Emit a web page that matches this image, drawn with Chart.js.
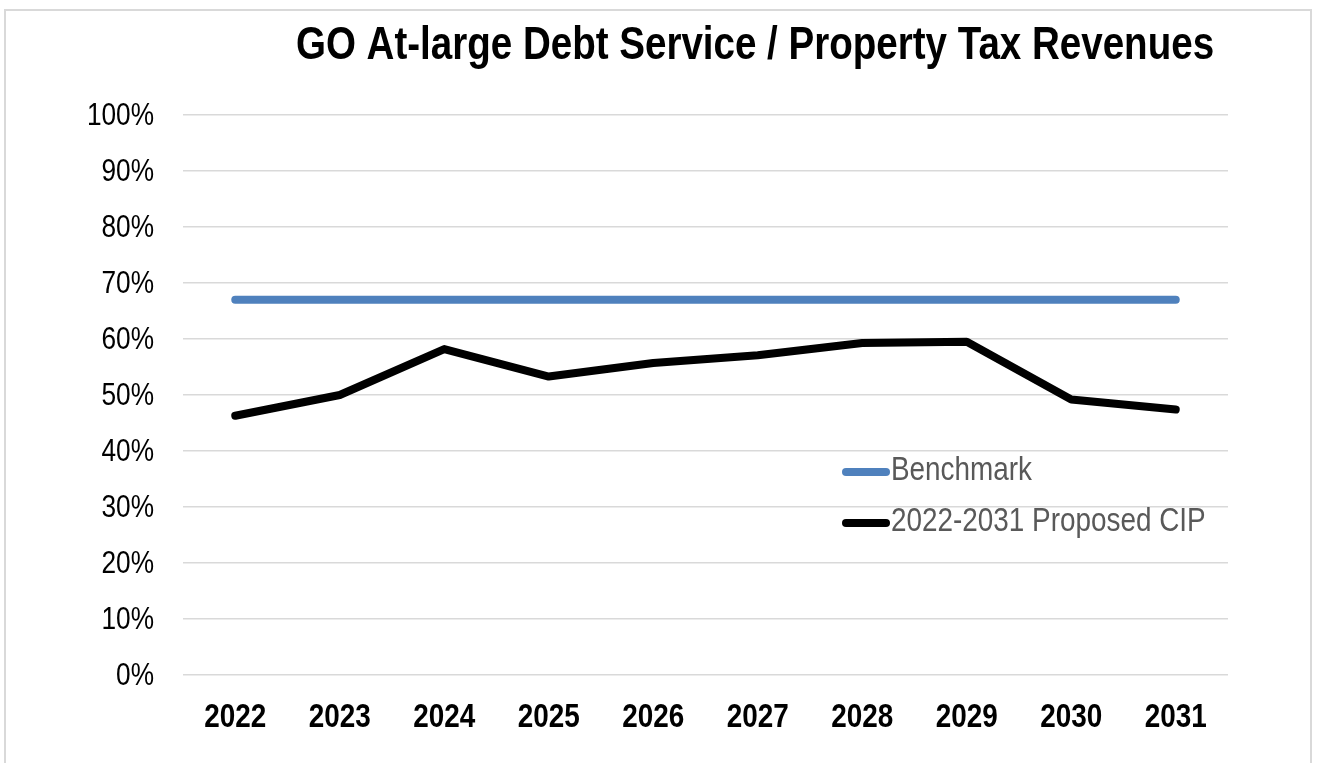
<!DOCTYPE html>
<html>
<head>
<meta charset="utf-8">
<script src="https://cdn.jsdelivr.net/npm/chart.js@4"></script>
<style>
  html, body { margin: 0; padding: 0; background: #fff; }
  #wrap { position: relative; width: 1323px; height: 763px; }
  #frame { position: absolute; left: 4px; top: 9px; width: 1308px; height: 760px; border: 2px solid #d9d9d9; box-sizing: border-box; }
  canvas { position: absolute; left: 0; top: 0; }
</style>
</head>
<body>
<div id="wrap">
  <div id="frame"></div>
  <canvas id="chart" width="1323" height="763"></canvas>
</div>
<script>
const years = ['2022', '2023', '2024', '2025', '2026', '2027', '2028', '2029', '2030', '2031'];
const benchmark = [67, 67, 67, 67, 67, 67, 67, 67, 67, 67];
const proposedCip = [46.3, 50.0, 58.2, 53.3, 55.7, 57.1, 59.3, 59.5, 49.2, 47.4];
const yTicks = [0, 10, 20, 30, 40, 50, 60, 70, 80, 90, 100];

// no Arial Narrow installed: squeeze Liberation Sans sideways instead
const FONT = '"Liberation Sans", Arial, sans-serif';
const NARROW = 0.82;

function narrowText(ctx, text, x, y, font, color, align) {
    ctx.save();
    ctx.font = font;
    ctx.fillStyle = color;
    ctx.textAlign = align;
    ctx.textBaseline = 'middle';
    ctx.translate(x, y);
    ctx.scale(NARROW, 1);
    ctx.fillText(text, 0, 0);
    ctx.restore();
}

const textPlugin = {
    id: 'textPlugin',
    afterDraw(chart) {
        const ctx = chart.ctx;
        const area = chart.chartArea;
        const xs = chart.scales.x;
        const ys = chart.scales.y;

        narrowText(ctx, 'GO At-large Debt Service / Property Tax Revenues', 755, 46,
            'bold 47px ' + FONT, '#000', 'center');

        yTicks.forEach(v => {
            narrowText(ctx, v + '%', area.left - 29, ys.getPixelForValue(v) + 1,
                '32px ' + FONT, '#000', 'right');
        });

        years.forEach((yr, i) => {
            narrowText(ctx, yr, xs.getPixelForValue(i), area.bottom + 43,
                'bold 34px ' + FONT, '#000', 'center');
        });

        chart.data.datasets.forEach((d, i) => {
            const y = area.top + 357 + i * 51;
            const x = area.left + 663;
            ctx.save();
            ctx.strokeStyle = d.borderColor;
            ctx.lineWidth = 8;
            ctx.lineCap = 'round';
            ctx.beginPath();
            ctx.moveTo(x, y);
            ctx.lineTo(x + 40, y);
            ctx.stroke();
            ctx.restore();
            narrowText(ctx, d.label, x + 45, y - 1, '34px ' + FONT, '#595959', 'left');
        });
    }
};

new Chart(document.getElementById('chart'), {
    type: 'line',
    data: {
        labels: years,
        datasets: [
            {
                label: 'Benchmark',
                data: benchmark,
                borderColor: '#4f81bd',
                borderWidth: 8,
                borderCapStyle: 'round',
                borderJoinStyle: 'round',
                pointRadius: 0,
                tension: 0
            },
            {
                label: '2022-2031 Proposed CIP',
                data: proposedCip,
                borderColor: '#000000',
                borderWidth: 8,
                borderCapStyle: 'round',
                borderJoinStyle: 'round',
                pointRadius: 0,
                tension: 0
            }
        ]
    },
    options: {
        responsive: false,
        animation: false,
        layout: { padding: { top: 115, left: 80, right: 95, bottom: 0 } },
        plugins: {
            legend: { display: false },
            tooltip: { enabled: false }
        },
        scales: {
            x: {
                offset: true,
                afterFit: (scale) => { scale.height = 88; },
                grid: { display: false },
                border: { display: false },
                ticks: { display: false }
            },
            y: {
                min: 0,
                max: 100,
                afterFit: (scale) => { scale.width = 103; },
                afterBuildTicks: (scale) => { scale.ticks = yTicks.map(v => ({ value: v })); },
                grid: { color: '#d9d9d9', lineWidth: 1.5, drawTicks: false },
                border: { display: false },
                ticks: { display: false }
            }
        }
    },
    plugins: [textPlugin]
});
</script>
</body>
</html>
